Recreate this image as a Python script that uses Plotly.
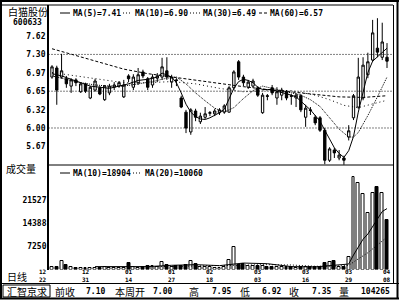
import plotly.graph_objects as go

# ---------------- data ----------------
idx = list(range(71))
opens = [6.90,7.06,6.90,6.87,6.74,6.85,6.64,6.78,6.53,6.67,
         6.71,6.50,6.62,6.72,6.74,6.55,6.92,6.72,6.80,6.99,
         6.87,6.76,6.88,6.90,7.01,6.81,6.85,6.53,6.28,5.93,
         6.30,6.11,6.19,6.26,6.25,6.27,6.28,6.28,6.71,7.17,
         6.90,6.72,6.74,6.71,6.27,6.57,6.71,6.53,6.58,6.64,
         6.57,6.53,6.57,6.19,6.32,6.19,6.18,5.96,5.43,5.61,
         5.47,5.47,5.84,6.18,6.37,6.53,6.94,7.20,7.41,7.25,
         7.25]
highs = [7.11,7.10,7.31,6.92,6.88,6.88,6.81,6.80,6.74,6.87,
         6.74,6.76,6.78,6.81,6.83,6.85,6.95,6.95,7.06,7.03,
         6.90,6.95,6.97,7.24,7.25,6.94,6.88,6.57,6.32,6.35,
         6.34,6.27,6.37,6.30,6.34,6.35,6.42,6.74,7.02,7.20,
         6.94,6.85,6.87,6.74,6.62,6.60,6.76,6.72,6.71,6.67,
         6.60,6.62,6.60,6.41,6.37,6.23,6.21,6.00,5.66,5.65,
         5.61,5.51,6.05,6.60,7.24,7.25,7.33,7.91,7.94,7.86,
         7.50]
lows = [6.87,6.41,6.87,6.71,6.62,6.74,6.62,6.62,6.51,6.64,
        6.58,6.48,6.58,6.67,6.71,6.53,6.81,6.67,6.76,6.88,
        6.67,6.71,6.81,6.85,6.85,6.71,6.74,6.35,5.91,5.88,
        6.12,6.07,6.16,6.21,6.21,6.23,6.25,6.27,6.67,6.85,
        6.74,6.69,6.71,6.55,6.25,6.49,6.58,6.41,6.49,6.49,
        6.41,6.37,6.28,6.02,6.23,6.05,5.93,5.36,5.40,5.47,
        5.43,5.35,5.78,6.14,6.34,6.49,6.88,7.17,7.25,7.20,
        7.06]
closes = [7.08,6.67,7.01,6.78,6.85,6.80,6.78,6.65,6.72,6.83,
          6.60,6.74,6.74,6.76,6.80,6.76,6.87,6.90,6.94,6.92,
          6.72,6.90,6.92,7.08,6.90,6.90,6.84,6.37,6.00,6.32,
          6.19,6.21,6.25,6.27,6.30,6.32,6.39,6.71,6.99,6.90,
          6.80,6.81,6.83,6.58,6.58,6.56,6.62,6.64,6.67,6.53,
          6.56,6.58,6.32,6.35,6.31,6.09,5.96,5.43,5.63,5.56,
          5.52,5.43,5.95,6.57,6.90,7.11,7.17,7.68,7.34,7.52,
          7.18]
volumes = [700,700,2500,1400,700,600,500,600,500,600,
           500,700,500,400,500,600,1900,900,600,700,
           1200,1100,700,2200,1400,700,1000,1200,1300,2500,
           1600,900,800,800,600,600,800,2950,7100,1400,
           1600,1000,1000,1100,1100,900,900,800,700,900,
           700,600,900,800,700,800,900,1900,2200,2600,
           900,900,4000,28800,26900,23400,17400,23600,25700,23600,
           15300]

ma5_x = [0,2,4,6,8,10,12,14,16,18,20,22,23,25,26,27,28,29,30,31,32,33,34,35,36,37,38,39,40,41,42,43,44,45,46,47,48,49,50,51,52,53,54,55,56,57,58,59,60,61,62,63,64,65,66,67,68,69,70]
ma5_y = [6.96,6.92,6.86,6.80,6.74,6.72,6.70,6.74,6.78,6.84,6.86,6.90,6.97,6.90,6.80,6.62,6.42,6.28,6.20,6.16,6.15,6.18,6.22,6.27,6.33,6.50,6.70,6.82,6.86,6.84,6.80,6.72,6.68,6.68,6.68,6.65,6.63,6.60,6.58,6.55,6.47,6.40,6.32,6.22,6.12,5.96,5.80,5.65,5.55,5.48,5.60,5.85,6.28,6.65,6.98,7.18,7.26,7.34,7.41]
ma10_x = [0,3,6,9,12,15,18,21,24,26,28,30,32,34,36,38,40,42,44,46,48,50,52,54,56,58,60,62,63,64,66,68,70]
ma10_y = [6.92,6.86,6.80,6.76,6.74,6.74,6.78,6.82,6.88,6.90,6.78,6.62,6.48,6.35,6.28,6.36,6.52,6.66,6.74,6.70,6.66,6.63,6.58,6.50,6.38,6.18,5.98,5.84,5.84,5.92,6.22,6.55,6.90]
ma30_x = [0,5,10,15,20,25,30,35,40,45,50,55,58,61,64,67,70]
ma30_y = [6.98,6.92,6.85,6.80,6.80,6.82,6.78,6.70,6.64,6.66,6.66,6.58,6.50,6.40,6.36,6.42,6.49]
ma60_x = [0,5,10,15,20,25,30,35,40,45,50,55,60,65,70]
ma60_y = [7.40,7.28,7.16,7.04,6.96,6.90,6.84,6.78,6.73,6.68,6.64,6.60,6.55,6.54,6.57]

vma10_x = [9,15,20,25,30,35,40,45,50,55,60,62,63,64,65,66,67,68,69,70]
vma10_y = [900,800,900,1300,1500,1200,2000,1800,900,800,1300,1700,4500,7100,9400,11000,13300,15800,18000,18904]
vma20_x = [19,25,30,35,40,45,50,55,60,62,64,66,68,70]
vma20_y = [800,1000,1200,1200,1500,1500,1400,1000,1100,1300,3300,5200,7600,10060]

price_ticks = [5.67, 6.00, 6.32, 6.65, 6.97, 7.30, 7.62]
price_grid = [6.00, 6.65, 7.30]
vol_ticks = [7250, 14388, 21527]
date_idx = [0, 7, 16, 25, 33, 43, 53, 62, 70]
date_month = ["12", "12", "01", "01", "02", "03", "03", "03", "04"]
date_day = ["22", "31", "14", "27", "18", "03", "16", "29", "08"]

stock_name = "白猫股份"
stock_code = "600633"
price_legend = ["MA(5)=7.41", "MA(10)=6.90", "MA(30)=6.49", "MA(60)=6.57"]
vol_legend = ["MA(10)=18904", "MA(20)=10060"]
info_labels = ["前收", "本周开", "高", "低", "收", "量"]
info_values = ["7.10", "7.00", "7.95", "6.92", "7.35", "104265"]

# ---------------- layout helpers ----------------
W, H = 400, 300
def px(x): return x / W
def py(y): return 1 - y / H

MONO = "DejaVu Sans Mono"
CJK = "Noto Sans CJK SC"
XL, XR = 48.5, 391.5
I0, I1 = -0.731, 70.94

fig = go.Figure()

fig.add_trace(go.Candlestick(
    x=idx, open=opens, high=highs, low=lows, close=closes,
    increasing=dict(line=dict(color="black", width=1), fillcolor="white"),
    decreasing=dict(line=dict(color="black", width=1), fillcolor="black"),
    whiskerwidth=0, xaxis="x", yaxis="y", showlegend=False, hoverinfo="skip"))

fig.add_trace(go.Scatter(x=ma60_x, y=ma60_y, mode="lines", line=dict(color="black", width=1, dash="3px,2px"),
                         xaxis="x", yaxis="y", showlegend=False, hoverinfo="skip"))
fig.add_trace(go.Scatter(x=ma30_x, y=ma30_y, mode="lines", line=dict(color="black", width=1, dash="1px,3px"),
                         xaxis="x", yaxis="y", showlegend=False, hoverinfo="skip"))
fig.add_trace(go.Scatter(x=ma10_x, y=ma10_y, mode="lines", line=dict(color="black", width=1, dash="1px,1px"),
                         xaxis="x", yaxis="y", showlegend=False, hoverinfo="skip"))
fig.add_trace(go.Scatter(x=ma5_x, y=ma5_y, mode="lines", line=dict(color="black", width=1),
                         xaxis="x", yaxis="y", showlegend=False, hoverinfo="skip"))

bar_colors = ["white" if c >= o else "black" for o, c in zip(opens, closes)]
fig.add_trace(go.Bar(x=idx, y=volumes, width=0.62, marker=dict(color=bar_colors, line=dict(color="black", width=1)),
                     xaxis="x2", yaxis="y2", showlegend=False, hoverinfo="skip"))
fig.add_trace(go.Scatter(x=vma20_x, y=vma20_y, mode="lines", line=dict(color="black", width=1, dash="1px,2px"),
                         xaxis="x2", yaxis="y2", showlegend=False, hoverinfo="skip"))
fig.add_trace(go.Scatter(x=vma10_x, y=vma10_y, mode="lines", line=dict(color="black", width=1),
                         xaxis="x2", yaxis="y2", showlegend=False, hoverinfo="skip"))

shapes = []
def hline(y, x0, x1, w=1, dash="solid"):
    shapes.append(dict(type="line", xref="paper", yref="paper", x0=px(x0), x1=px(x1), y0=py(y), y1=py(y),
                       line=dict(color="black", width=w, dash=dash)))
def vline(x, y0, y1, w=1):
    shapes.append(dict(type="line", xref="paper", yref="paper", x0=px(x), x1=px(x), y0=py(y0), y1=py(y1),
                       line=dict(color="black", width=w)))

for g in price_grid:
    shapes.append(dict(type="line", xref="paper", yref="y", x0=px(XL), x1=px(XR), y0=g, y1=g,
                       line=dict(color="black", width=1, dash="1px,2px")))

# frames
hline(1, 0, 399, 2)
hline(5, 0, 393)
vline(1, 0, 299, 2)
vline(393.5, 5, 283)
vline(397.5, 0, 299, 2)
vline(48, 5, 270, 2)
hline(165, 48, 393)
hline(283.5, 0, 399)
hline(298.5, 0, 399, 2)
shapes.append(dict(type="rect", xref="paper", yref="paper", x0=px(3), x1=px(50), y0=py(285), y1=py(297),
                   line=dict(color="black", width=1)))

# legend markers
hline(13, 60, 70)
hline(13, 123, 132, 1, "1px,2px")
hline(13, 190, 200, 1, "1px,2px")
hline(13, 259, 267, 1, "3px,2px")
hline(173, 60, 70)
hline(173, 133, 142, 1, "1px,2px")

annotations = []
def ann(x, y, text, size=8, anchor="left", family=MONO, weight="bold", xref="paper", xs=0):
    annotations.append(dict(x=x if xref != "paper" else px(x), y=py(y), xref=xref, yref="paper", text=text,
                            showarrow=False, xanchor=anchor, yanchor="middle", xshift=xs,
                            font=dict(family=family, size=size, color="black", weight=weight)))

ann(6, 11.5, stock_name, 10, family=CJK, weight="normal")
ann(11, 22, stock_code, 8)
ann(71, 13, price_legend[0]); ann(133, 13, price_legend[1]); ann(201, 13, price_legend[2]); ann(268, 13, price_legend[3])
ann(4, 168, "成交量", 10, family=CJK, weight="normal")
ann(71, 173, vol_legend[0]); ann(143, 173, vol_legend[1])
ann(5, 276, "日线", 10, family=CJK, weight="normal")
for i, (d, m, dd) in enumerate(zip(date_idx, date_month, date_day)):
    xs = -9 if i == 0 else 0
    annotations.append(dict(x=d, y=py(275.5), xref="x", yref="paper", text=f"{m}<br>{dd}", showarrow=False,
                            xanchor="center", yanchor="middle", xshift=xs, align="center",
                            font=dict(family=MONO, size=6, color="black", weight="bold")))
ann(26.5, 291, "汇智京求", 10, anchor="center", family=CJK, weight="normal")
label_x = [53, 113, 187, 238, 287, 337]
value_r = [107, 174, 233, 283, 333, 392]
for lx, lab in zip(label_x, info_labels):
    ann(lx, 291, lab, 10, family=CJK, weight="normal")
for vr, val in zip(value_r, info_values):
    ann(vr, 291, val, 8, anchor="right")

fig.update_layout(
    width=W, height=H, margin=dict(l=0, r=0, t=0, b=0),
    paper_bgcolor="white", plot_bgcolor="white",
    xaxis=dict(domain=[px(XL), px(XR)], range=[I0, I1], showticklabels=False, showgrid=False, zeroline=False,
               rangeslider=dict(visible=False), anchor="y", fixedrange=True),
    xaxis2=dict(domain=[px(XL), px(XR)], range=[I0, I1], matches="x", showticklabels=False, showgrid=False,
                zeroline=False, anchor="y2"),
    yaxis=dict(domain=[py(165), py(5)], range=[5.346, 8.173], tickvals=price_ticks,
               ticktext=[f"{v:.2f}" for v in price_ticks], showgrid=False, zeroline=False, ticks="",
               tickfont=dict(family=MONO, size=8, color="black", weight="bold"), anchor="x", ticklabelstandoff=2),
    yaxis2=dict(domain=[py(269.5), py(165)], range=[0, 32430], tickvals=vol_ticks,
                ticktext=[str(v) for v in vol_ticks], showgrid=False, zeroline=False, ticks="",
                tickfont=dict(family=MONO, size=8, color="black", weight="bold"), anchor="x2", ticklabelstandoff=1),
    shapes=shapes, annotations=annotations, bargap=0, showlegend=False,
)

fig.write_html("out.html")
